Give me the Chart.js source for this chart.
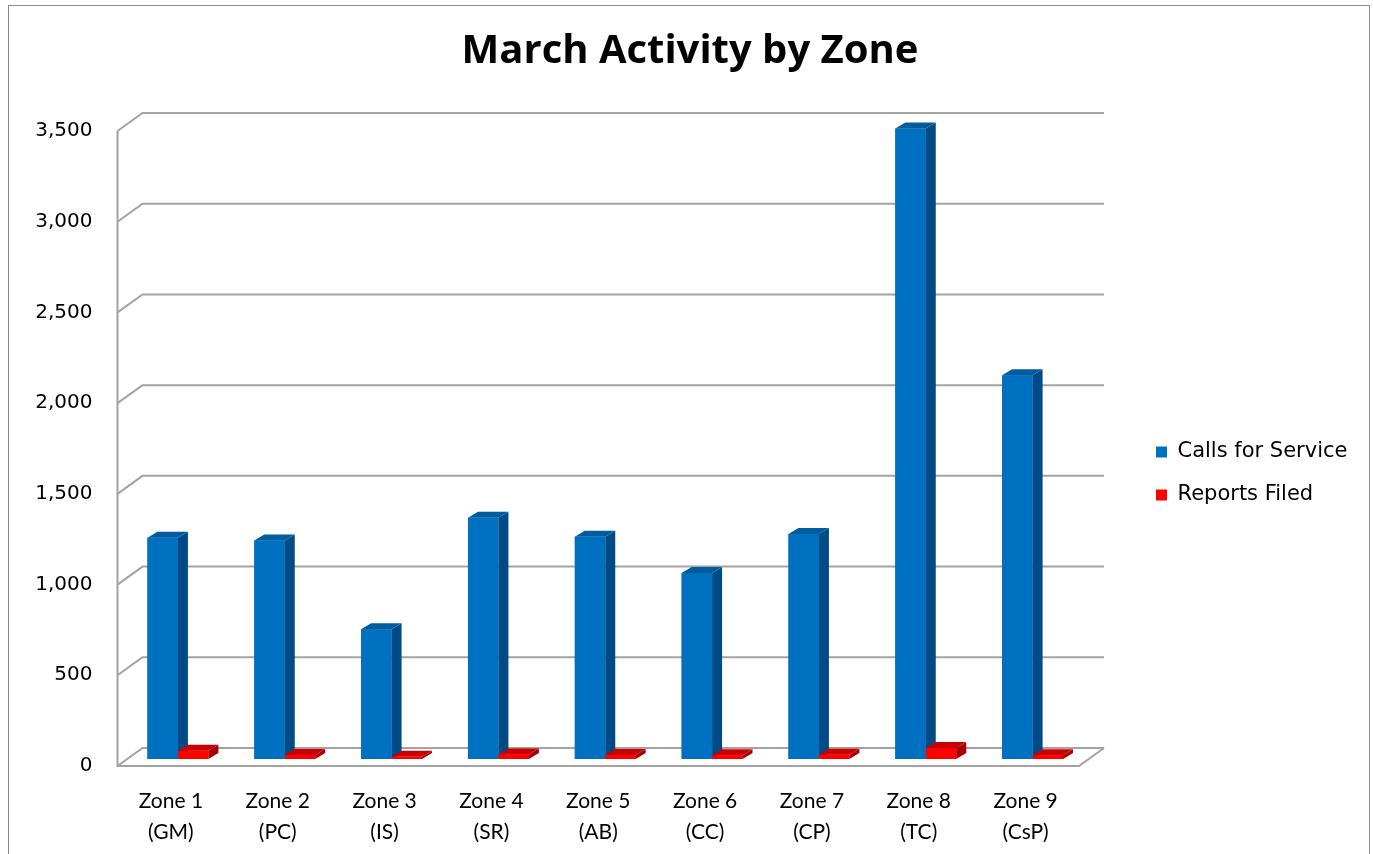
<!DOCTYPE html>
<html>
<head>
<meta charset="utf-8">
<title>March Activity by Zone</title>
<script src="https://cdn.jsdelivr.net/npm/chart.js@4.4.1/dist/chart.umd.min.js"></script>
<style>
    html, body { margin: 0; padding: 0; background: #fff; }
    #wrap { width: 1373px; height: 854px; position: relative; }
</style>
</head>
<body>
<div id="wrap"><canvas id="activityChart" width="1373" height="854"></canvas></div>
<script>
var zoneLabels = [
    ['Zone 1', '(GM)'], ['Zone 2', '(PC)'], ['Zone 3', '(IS)'],
    ['Zone 4', '(SR)'], ['Zone 5', '(AB)'], ['Zone 6', '(CC)'],
    ['Zone 7', '(CP)'], ['Zone 8', '(TC)'], ['Zone 9', '(CsP)']
];
var callsForService = [1220, 1205, 715, 1330, 1225, 1025, 1240, 3475, 2115];
var reportsFiled = [45, 22, 12, 25, 22, 20, 24, 60, 20];
var yTicks = [0, 500, 1000, 1500, 2000, 2500, 3000, 3500];

// 3d look: front/back plane offsets of the walls, depth of each bar
var frontOff = { x: -7, y: 7 };
var backOff = { x: 18, y: -11 };
var barDepth = { x: 10, y: -6 };
var faceColors = [
    { front: '#0070c0', side: '#004b85', top: '#005c9f' },
    { front: '#ff0000', side: '#a80000', top: '#c80000' }
];

var frame3d = {
    id: 'frame3d',
    beforeDraw: function(chart) {
        var ctx = chart.ctx;
        ctx.save();
        ctx.strokeStyle = '#8c8c8c';
        ctx.lineWidth = 1;
        ctx.strokeRect(8.5, 5.5, 1361, 900);
        ctx.restore();
    },
    beforeDatasetsDraw: function(chart) {
        var ctx = chart.ctx, area = chart.chartArea, y = chart.scales.y;
        var L = area.left, R = area.right;
        ctx.save();
        ctx.strokeStyle = '#a3a3a3';
        ctx.lineWidth = 2;
        yTicks.forEach(function(v) {
            var py = y.getPixelForValue(v);
            ctx.beginPath();
            ctx.moveTo(L + frontOff.x, py + frontOff.y);
            ctx.lineTo(L + backOff.x, py + backOff.y);
            ctx.lineTo(R + backOff.x, py + backOff.y);
            ctx.stroke();
        });
        var top = y.getPixelForValue(yTicks[yTicks.length - 1]);
        var base = y.getPixelForValue(0);
        ctx.beginPath();
        ctx.moveTo(L + frontOff.x, top + frontOff.y);
        ctx.lineTo(L + frontOff.x, base + frontOff.y);
        ctx.lineTo(R + frontOff.x, base + frontOff.y);
        ctx.lineTo(R + backOff.x, base + backOff.y);
        ctx.stroke();
        ctx.restore();
    },
    afterDatasetsDraw: function(chart) {
        var ctx = chart.ctx;
        var count = chart.data.labels.length;
        ctx.save();
        for (var i = 0; i < count; i++) {
            chart.data.datasets.forEach(function(ds, d) {
                var bar = chart.getDatasetMeta(d).data[i];
                var p = bar.getProps(['x', 'y', 'base', 'width'], true);
                var left = p.x - p.width / 2, right = p.x + p.width / 2;
                var c = faceColors[d];
                ctx.fillStyle = c.side;
                ctx.beginPath();
                ctx.moveTo(right, p.y);
                ctx.lineTo(right + barDepth.x, p.y + barDepth.y);
                ctx.lineTo(right + barDepth.x, p.base + barDepth.y);
                ctx.lineTo(right, p.base);
                ctx.closePath();
                ctx.fill();
                ctx.fillStyle = c.top;
                ctx.beginPath();
                ctx.moveTo(left, p.y);
                ctx.lineTo(left + barDepth.x, p.y + barDepth.y);
                ctx.lineTo(right + barDepth.x, p.y + barDepth.y);
                ctx.lineTo(right, p.y);
                ctx.closePath();
                ctx.fill();
                ctx.fillStyle = c.front;
                ctx.fillRect(left, p.y, p.width, p.base - p.y);
            });
        }
        ctx.restore();
    }
};

var ctxActivity = document.getElementById('activityChart').getContext('2d');
var activityChart = new Chart(ctxActivity, {
    type: 'bar',
    data: {
        labels: zoneLabels,
        datasets: [{
            label: 'Calls for Service',
            data: callsForService,
            backgroundColor: faceColors[0].front,
            borderWidth: 0,
            categoryPercentage: 0.57,
            barPercentage: 1
        },
        {
            label: 'Reports Filed',
            data: reportsFiled,
            backgroundColor: faceColors[1].front,
            borderWidth: 0,
            categoryPercentage: 0.57,
            barPercentage: 1
        }]
    },
    options: {
        responsive: false,
        animation: false,
        layout: { padding: { left: 24, right: 17, top: 0, bottom: 0 } },
        plugins: {
            title: {
                display: true,
                text: 'March Activity by Zone',
                color: '#000',
                font: { family: 'Open Sans', size: 40, weight: 'bold', lineHeight: 1.2 },
                padding: { top: 28, bottom: 48 }
            },
            legend: {
                position: 'right',
                title: {
                    display: true,
                    text: ' ',
                    font: { size: 20, lineHeight: 1 },
                    padding: { top: 36, bottom: 37 }
                },
                labels: {
                    boxWidth: 11,
                    boxHeight: 11,
                    padding: 22,
                    color: '#000',
                    font: { family: 'DejaVu Sans', size: 21 }
                }
            },
            tooltip: { enabled: false }
        },
        scales: {
            x: {
                grid: { display: false, drawTicks: false },
                border: { display: false },
                ticks: {
                    color: '#000',
                    font: { family: 'Lato', size: 21, lineHeight: 1.48 },
                    padding: 27,
                    labelOffset: -7,
                    maxRotation: 0,
                    autoSkip: false
                },
                afterFit: function(s) { s.height = 95; }
            },
            y: {
                min: 0,
                max: 3500,
                grid: { display: false, drawTicks: false },
                border: { display: false },
                afterBuildTicks: function(s) {
                    s.ticks = yTicks.map(function(v) { return { value: v }; });
                },
                ticks: {
                    color: '#000',
                    font: { family: 'DejaVu Sans', size: 20 },
                    padding: 32,
                    labelOffset: 7,
                    callback: function(v) { return v.toLocaleString('en-US'); }
                },
                afterFit: function(s) { s.width = 100.5; }
            },
            gap: {
                position: 'right',
                display: true,
                grid: { display: false, drawTicks: false },
                border: { display: false },
                ticks: { display: false },
                afterFit: function(s) { s.width = 48; }
            }
        }
    },
    plugins: [frame3d]
});
</script>
</body>
</html>
